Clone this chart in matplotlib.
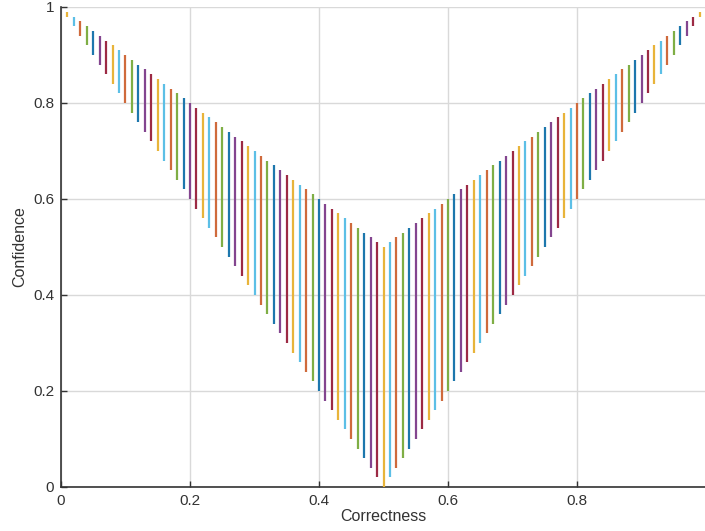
import matplotlib
matplotlib.use("Agg")
import matplotlib.pyplot as plt

# positions of the segments along the Correctness axis
correctness = [0.01, 0.02, 0.03, 0.04, 0.05, 0.06, 0.07, 0.08, 0.09, 0.10,
               0.11, 0.12, 0.13, 0.14, 0.15, 0.16, 0.17, 0.18, 0.19, 0.20,
               0.21, 0.22, 0.23, 0.24, 0.25, 0.26, 0.27, 0.28, 0.29, 0.30,
               0.31, 0.32, 0.33, 0.34, 0.35, 0.36, 0.37, 0.38, 0.39, 0.40,
               0.41, 0.42, 0.43, 0.44, 0.45, 0.46, 0.47, 0.48, 0.49, 0.50,
               0.51, 0.52, 0.53, 0.54, 0.55, 0.56, 0.57, 0.58, 0.59, 0.60,
               0.61, 0.62, 0.63, 0.64, 0.65, 0.66, 0.67, 0.68, 0.69, 0.70,
               0.71, 0.72, 0.73, 0.74, 0.75, 0.76, 0.77, 0.78, 0.79, 0.80,
               0.81, 0.82, 0.83, 0.84, 0.85, 0.86, 0.87, 0.88, 0.89, 0.90,
               0.91, 0.92, 0.93, 0.94, 0.95, 0.96, 0.97, 0.98, 0.99]

# top of each segment
conf_high = [0.99, 0.98, 0.97, 0.96, 0.95, 0.94, 0.93, 0.92, 0.91, 0.90,
             0.89, 0.88, 0.87, 0.86, 0.85, 0.84, 0.83, 0.82, 0.81, 0.80,
             0.79, 0.78, 0.77, 0.76, 0.75, 0.74, 0.73, 0.72, 0.71, 0.70,
             0.69, 0.68, 0.67, 0.66, 0.65, 0.64, 0.63, 0.62, 0.61, 0.60,
             0.59, 0.58, 0.57, 0.56, 0.55, 0.54, 0.53, 0.52, 0.51, 0.50,
             0.51, 0.52, 0.53, 0.54, 0.55, 0.56, 0.57, 0.58, 0.59, 0.60,
             0.61, 0.62, 0.63, 0.64, 0.65, 0.66, 0.67, 0.68, 0.69, 0.70,
             0.71, 0.72, 0.73, 0.74, 0.75, 0.76, 0.77, 0.78, 0.79, 0.80,
             0.81, 0.82, 0.83, 0.84, 0.85, 0.86, 0.87, 0.88, 0.89, 0.90,
             0.91, 0.92, 0.93, 0.94, 0.95, 0.96, 0.97, 0.98, 0.99]

# bottom of each segment
conf_low = [0.98, 0.96, 0.94, 0.92, 0.90, 0.88, 0.86, 0.84, 0.82, 0.80,
            0.78, 0.76, 0.74, 0.72, 0.70, 0.68, 0.66, 0.64, 0.62, 0.60,
            0.58, 0.56, 0.54, 0.52, 0.50, 0.48, 0.46, 0.44, 0.42, 0.40,
            0.38, 0.36, 0.34, 0.32, 0.30, 0.28, 0.26, 0.24, 0.22, 0.20,
            0.18, 0.16, 0.14, 0.12, 0.10, 0.08, 0.06, 0.04, 0.02, 0.00,
            0.02, 0.04, 0.06, 0.08, 0.10, 0.12, 0.14, 0.16, 0.18, 0.20,
            0.22, 0.24, 0.26, 0.28, 0.30, 0.32, 0.34, 0.36, 0.38, 0.40,
            0.42, 0.44, 0.46, 0.48, 0.50, 0.52, 0.54, 0.56, 0.58, 0.60,
            0.62, 0.64, 0.66, 0.68, 0.70, 0.72, 0.74, 0.76, 0.78, 0.80,
            0.82, 0.84, 0.86, 0.88, 0.90, 0.92, 0.94, 0.96, 0.98]

# colour cycle as seen from left to right
palette = ["#e8b43a", "#5cbfe6", "#cf6a3c", "#7fae45",
           "#1d77ad", "#83458f", "#9c2a44"]

plt.rcParams['font.family'] = ['Liberation Sans', 'DejaVu Sans']

fig = plt.figure(figsize=(7.05, 5.31), dpi=100)
ax = fig.add_axes([0.0865, 0.083, 0.915, 0.904])

seg_colors = [palette[i % len(palette)] for i in range(len(correctness))]
ax.vlines(correctness, conf_low, conf_high, colors=seg_colors, linewidth=1.6,
          capstyle='butt', zorder=3)

ax.set_xlim(0, 1)
ax.set_ylim(0, 1)
ax.set_xticks([0, 0.2, 0.4, 0.6, 0.8])
ax.set_xticklabels(["0", "0.2", "0.4", "0.6", "0.8"])
ax.set_yticks([0, 0.2, 0.4, 0.6, 0.8, 1])
ax.set_yticklabels(["0", "0.2", "0.4", "0.6", "0.8", "1"])

ax.grid(True, color='#d9d9d9', linewidth=1.0)
ax.set_axisbelow(True)
for s in ['top', 'right']:
    ax.spines[s].set_visible(False)
for s in ['left', 'bottom']:
    ax.spines[s].set_color('#333333')
    ax.spines[s].set_linewidth(1.2)

ax.tick_params(direction='in', length=4, width=1.0, color='#333333',
               labelsize=11, labelcolor='#333333', pad=5)
ax.set_xlabel("Correctness", fontsize=11.5, color='#333333', labelpad=1)
ax.set_ylabel("Confidence", fontsize=11.5, color='#333333', labelpad=4)

fig.savefig("out.png", dpi=100)
